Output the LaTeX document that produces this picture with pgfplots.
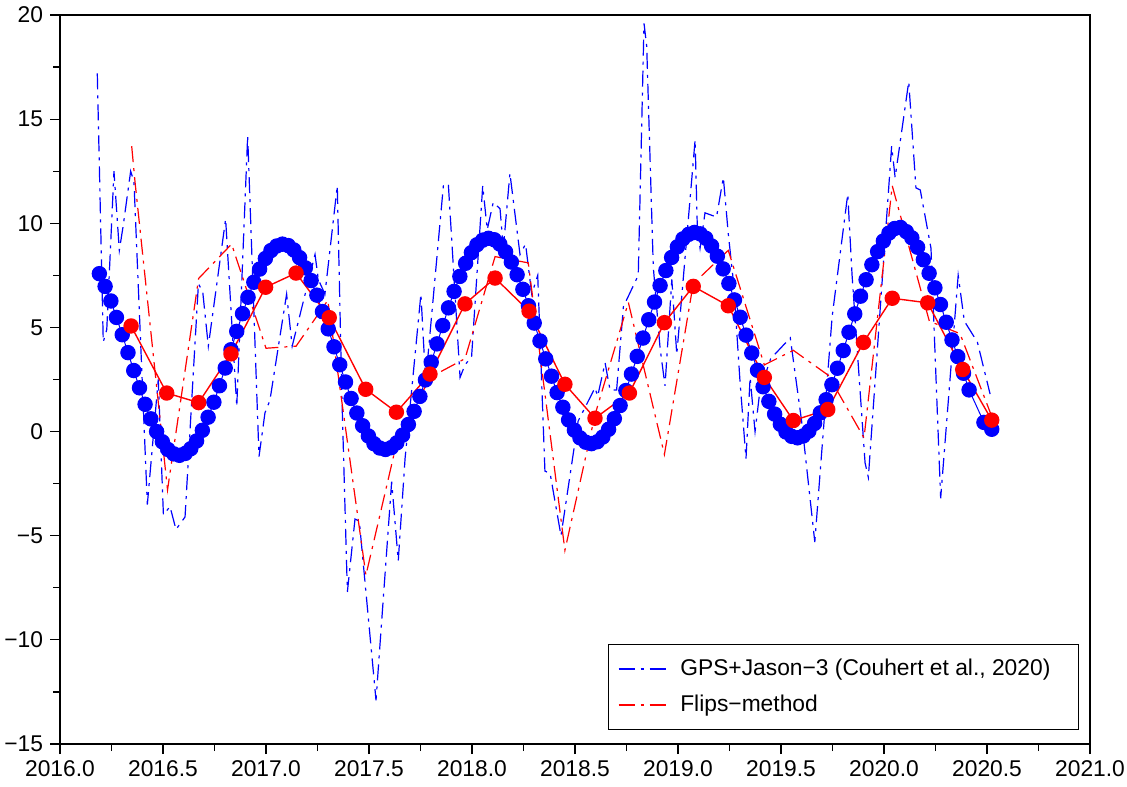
\documentclass[border=0pt]{standalone}
\usepackage{fontspec}
\setmainfont{Liberation Sans}
\usepackage{pgfplots}
\pgfplotsset{compat=1.18}
\begin{document}
\begin{tikzpicture}
\begin{axis}[
  scale only axis, width=515pt, height=364.5pt,
  xmin=2016, xmax=2021, ymin=-15, ymax=20,
  xtick={2016,2016.5,2017,2017.5,2018,2018.5,2019,2019.5,2020,2020.5,2021},
  xticklabels={2016.0,2016.5,2017.0,2017.5,2018.0,2018.5,2019.0,2019.5,2020.0,2020.5,2021.0},
  ytick={-15,-10,-5,0,5,10,15,20},
  yticklabels={−15,−10,−5,0,5,10,15,20},
  minor x tick num=1, minor y tick num=1,
  tick align=outside, tick pos=left,
  major tick length=5pt, minor tick length=3.5pt,
  tick style={black, line width=0.6pt},
  axis line style={line width=0.7pt},
  ticklabel style={font=\fontsize{11.4}{13}\selectfont},
  legend style={at={(0.9893,0.0192)}, anchor=south east, draw=black, line width=0.6pt,
    font=\fontsize{11.4}{13}\selectfont, inner xsep=5pt, inner ysep=5.3pt,
    nodes={inner sep=2pt}, row sep=4.3pt},
  legend cell align=left,
  legend image code/.code={\draw[#1] (0pt,0pt) -- (25pt,0pt);},
]
\coordinate (SW) at (rel axis cs:0,0);
\coordinate (NE) at (rel axis cs:1,1);
\addlegendimage{blue, line width=0.6pt, dash pattern=on 8pt off 3pt on 1.5pt off 3pt}
\addlegendentry{\hspace*{3.5pt}GPS+Jason−3 (Couhert et al., 2020)\hspace*{7pt}}
\addlegendimage{red, line width=0.6pt, dash pattern=on 8pt off 3pt on 1.5pt off 3pt}
\addlegendentry{\hspace*{3.5pt}Flips−method}
% GPS+Jason-3
\addplot[blue, line width=0.6pt, dash pattern=on 8pt off 3pt on 1.5pt off 3pt, forget plot] coordinates {
(2016.181,17.2)(2016.210,4.3)(2016.227,4.9)(2016.262,12.5)(2016.288,8.7)(2016.307,9.9)
(2016.343,12.5)(2016.359,12.0)(2016.424,-3.5)(2016.477,2.5)(2016.502,-4.0)(2016.534,-3.6)
(2016.563,-4.7)(2016.607,-4.1)(2016.672,7.1)(2016.693,6.7)(2016.720,4.1)(2016.804,10.2)
(2016.858,1.2)(2016.911,14.2)(2016.966,-1.2)(2016.995,0.9)(2017.019,1.5)(2017.100,6.6)
(2017.127,4.1)(2017.238,8.5)(2017.254,7.3)(2017.286,6.6)(2017.346,11.8)(2017.368,1.8)
(2017.395,-7.7)(2017.432,-4.2)(2017.453,-4.3)(2017.534,-12.9)(2017.610,-2.4)(2017.642,-6.2)
(2017.675,-1.3)(2017.752,6.6)(2017.775,2.4)(2017.861,11.8)(2017.885,11.9)(2017.942,2.6)
(2017.966,3.2)(2017.998,3.6)(2018.052,11.8)(2018.074,9.7)(2018.103,11.0)(2018.136,10.7)
(2018.152,8.8)(2018.184,12.4)(2018.233,8.5)(2018.260,9.0)(2018.290,6.6)(2018.319,7.5)
(2018.338,2.4)(2018.354,-1.9)(2018.379,-2.0)(2018.432,-5.0)(2018.515,0.5)(2018.597,2.1)
(2018.610,1.7)(2018.646,3.3)(2018.670,2.0)(2018.702,2.0)(2018.735,6.0)(2018.807,7.5)
(2018.835,19.6)(2018.848,18.5)(2018.880,7.9)(2018.913,4.0)(2018.937,2.2)(2018.970,7.3)
(2018.994,3.7)(2019.083,14.0)(2019.094,9.7)(2019.107,8.8)(2019.131,10.5)(2019.187,10.3)
(2019.220,12.2)(2019.244,9.5)(2019.270,7.1)(2019.301,2.4)(2019.330,-1.3)(2019.350,2.6)
(2019.374,0.0)(2019.398,2.0)(2019.450,3.5)(2019.545,4.5)(2019.600,0.5)(2019.664,-5.3)
(2019.748,5.5)(2019.824,11.4)(2019.845,7.5)(2019.908,-1.5)(2019.924,-2.2)(2020.037,13.7)
(2020.054,12.2)(2020.120,16.8)(2020.155,11.7)(2020.176,11.6)(2020.228,8.8)(2020.275,-3.2)
(2020.360,7.5)(2020.390,5.3)(2020.453,4.3)(2020.515,1.8)
};
% Flips-method
\addplot[red, line width=0.6pt, dash pattern=on 8pt off 3pt on 1.5pt off 3pt, forget plot] coordinates {
(2016.348,13.7)(2016.364,12.0)(2016.522,-2.8)(2016.673,7.35)(2016.833,9.0)(2017.000,4.0)
(2017.146,4.1)(2017.300,6.3)(2017.485,-6.9)(2017.633,-0.6)(2017.796,2.6)(2017.966,3.5)
(2018.112,8.4)(2018.273,8.1)(2018.451,-5.7)(2018.597,0.8)(2018.759,6.2)(2018.934,-1.1)
(2019.074,7.1)(2019.244,8.7)(2019.419,3.2)(2019.560,3.9)(2019.730,2.7)(2019.903,-0.3)
(2020.040,11.8)(2020.220,5.3)(2020.369,4.7)(2020.520,0.8)
};
% smooth GPS+Jason-3
\addplot[blue, line width=0.5pt, mark=*, mark size=3.6pt, mark options={solid, fill=blue, draw=blue}, forget plot] table {
2016.191 7.58
2016.219 6.97
2016.247 6.27
2016.274 5.48
2016.302 4.65
2016.330 3.79
2016.358 2.93
2016.386 2.10
2016.413 1.31
2016.441 0.61
2016.469 0.00
2016.497 -0.49
2016.524 -0.86
2016.552 -1.07
2016.580 -1.14
2016.608 -1.05
2016.635 -0.82
2016.663 -0.45
2016.691 0.06
2016.719 0.69
2016.747 1.41
2016.774 2.20
2016.802 3.05
2016.830 3.93
2016.858 4.81
2016.886 5.66
2016.913 6.45
2016.941 7.17
2016.969 7.80
2016.997 8.31
2017.024 8.69
2017.052 8.91
2017.080 9.00
2017.108 8.93
2017.135 8.72
2017.163 8.35
2017.191 7.86
2017.219 7.25
2017.247 6.55
2017.274 5.76
2017.302 4.93
2017.330 4.07
2017.358 3.21
2017.386 2.38
2017.413 1.59
2017.441 0.89
2017.469 0.28
2017.497 -0.21
2017.524 -0.58
2017.552 -0.79
2017.580 -0.86
2017.608 -0.77
2017.635 -0.54
2017.663 -0.17
2017.691 0.34
2017.719 0.97
2017.747 1.69
2017.774 2.48
2017.802 3.33
2017.830 4.21
2017.858 5.09
2017.886 5.94
2017.913 6.73
2017.941 7.45
2017.969 8.08
2017.997 8.59
2018.024 8.97
2018.052 9.19
2018.080 9.28
2018.108 9.21
2018.135 9.00
2018.163 8.63
2018.191 8.14
2018.219 7.53
2018.247 6.83
2018.274 6.04
2018.302 5.21
2018.330 4.35
2018.358 3.49
2018.386 2.66
2018.413 1.87
2018.441 1.17
2018.469 0.56
2018.497 0.07
2018.524 -0.30
2018.552 -0.51
2018.580 -0.58
2018.608 -0.49
2018.635 -0.26
2018.663 0.11
2018.691 0.62
2018.719 1.25
2018.747 1.97
2018.774 2.76
2018.802 3.61
2018.830 4.49
2018.858 5.37
2018.886 6.22
2018.913 7.01
2018.941 7.73
2018.969 8.36
2018.997 8.87
2019.024 9.25
2019.052 9.47
2019.080 9.56
2019.108 9.49
2019.135 9.28
2019.163 8.91
2019.191 8.42
2019.219 7.81
2019.247 7.11
2019.274 6.32
2019.302 5.49
2019.330 4.63
2019.358 3.77
2019.386 2.94
2019.413 2.15
2019.441 1.45
2019.469 0.84
2019.497 0.35
2019.524 -0.02
2019.552 -0.23
2019.580 -0.30
2019.608 -0.21
2019.635 0.02
2019.663 0.39
2019.691 0.90
2019.719 1.53
2019.747 2.25
2019.774 3.04
2019.802 3.89
2019.830 4.77
2019.858 5.65
2019.886 6.50
2019.913 7.29
2019.941 8.01
2019.969 8.64
2019.997 9.15
2020.024 9.53
2020.052 9.75
2020.080 9.80
2020.108 9.60
2020.135 9.30
2020.163 8.85
2020.191 8.25
2020.219 7.60
2020.247 6.90
2020.274 6.10
2020.302 5.25
2020.330 4.40
2020.358 3.60
2020.386 2.80
2020.413 2.00
2020.485 0.44
2020.523 0.11
};
% smooth Flips-method
\addplot[red, line width=0.7pt, mark=*, mark size=3.5pt, mark options={solid, fill=red, draw=red}, forget plot] coordinates {
(2016.345,5.07)(2016.518,1.85)(2016.673,1.39)(2016.830,3.73)(2016.998,6.93)(2017.146,7.61)
(2017.307,5.47)(2017.484,2.03)(2017.633,0.93)(2017.796,2.76)(2017.966,6.13)(2018.112,7.37)
(2018.277,5.78)(2018.451,2.27)(2018.597,0.64)(2018.764,1.85)(2018.934,5.23)(2019.074,6.97)
(2019.244,6.04)(2019.419,2.60)(2019.560,0.53)(2019.727,1.06)(2019.900,4.28)(2020.040,6.40)
(2020.212,6.18)(2020.382,2.98)(2020.523,0.55)
};
\end{axis}
\pgfresetboundingbox
\path[use as bounding box] ([shift={(-30pt,-21pt)}]SW) rectangle ([shift={(18.5pt,7.5pt)}]NE);
\end{tikzpicture}
\end{document}
